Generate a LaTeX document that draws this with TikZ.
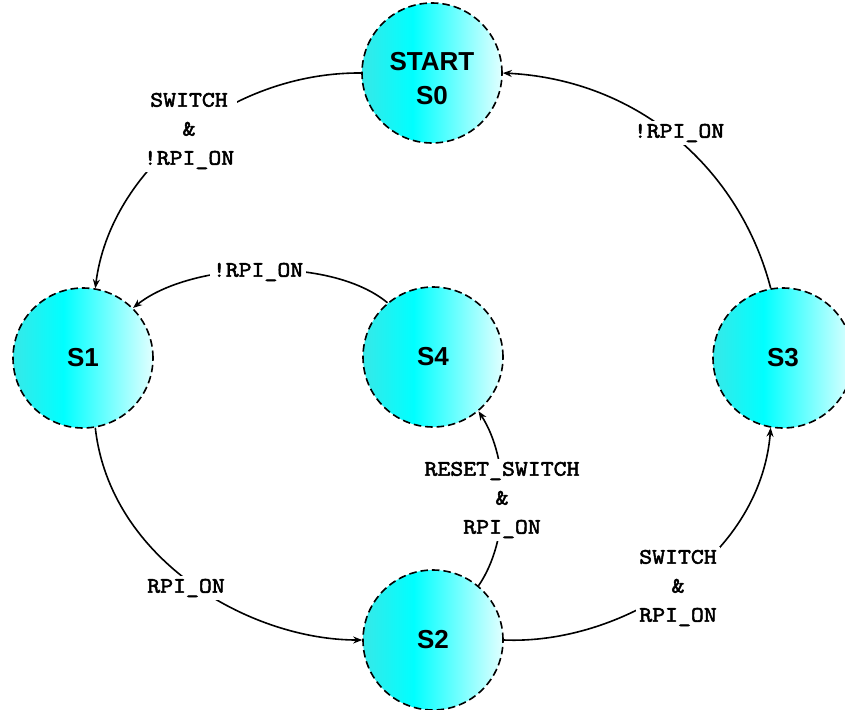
\documentclass[tikz,border=0pt]{standalone}
\usepackage{fontspec}
\setmainfont{Liberation Sans}
\newfontfamily\monob[FakeBold=2.5,FakeStretch=1.14]{Latin Modern Mono}
\usetikzlibrary{arrows.meta}
\definecolor{cl}{RGB}{55,232,232}
\definecolor{cm}{RGB}{0,255,255}
\definecolor{cr}{RGB}{225,255,255}
\pgfdeclarehorizontalshading{stateshade}{100bp}{color(0bp)=(cl); color(25bp)=(cl); color(43bp)=(cm); color(75bp)=(cr); color(100bp)=(cr)}
\begin{document}
\begin{tikzpicture}[x=1pt,y=-1pt,
 state/.style={circle, minimum size=140pt, inner sep=0pt, draw=black, line width=1.6pt,
   dash pattern=on 7.5pt off 4pt, shade, shading=stateshade,
   font=\fontsize{26}{34}\selectfont\bfseries, align=center},
 stxt/.style={font=\fontsize{26}{34}\selectfont\bfseries, align=center, inner sep=0pt},
 edge/.style={line width=1.6pt, -{Stealth[length=9pt,width=7pt]}},
 lbl/.style={font=\monob\fontsize{22}{29}\selectfont, align=center, fill=white, inner sep=3pt}]
\useasboundingbox (0,0) rectangle (845,709);
\node[state] (S0) at (432,73) {};
\node[stxt] (S0t) at (432,79) {START\\S0};
\node[state] (S1) at (83,358) {S1};
\node[state] (S4) at (433,357) {S4};
\node[state] (S3) at (783,358) {S3};
\node[state] (S2) at (433,640) {S2};
\draw[edge] (S0.west) .. controls (230,72) and (110,170) .. (S1.80);
\draw[edge] (S4.130) .. controls (330,255) and (190,262) .. (S1.45);
\draw[edge] (S1.-80) .. controls (110,560) and (250,640) .. (S2.west);
\draw[edge] (S2.50) .. controls (510,540) and (510,460) .. (S4.-50);
\draw[edge] (S2.east) .. controls (620,645) and (760,560) .. (S3.-100);
\draw[edge] (S3.100) .. controls (740,170) and (640,80) .. (S0.east);
\node[lbl] (L01) at (189,131) {SWITCH\\\&\\!RPI\_ON};
\node[lbl] (L41) at (258,272) {!RPI\_ON};
\node[lbl] (L12) at (186,588) {RPI\_ON};
\node[lbl] (L24) at (502,500) {RESET\_SWITCH\\\&\\RPI\_ON};
\node[lbl] (L23) at (678,588) {SWITCH\\\&\\RPI\_ON};
\node[lbl] (L30) at (679,133) {!RPI\_ON};
\end{tikzpicture}
\end{document}
